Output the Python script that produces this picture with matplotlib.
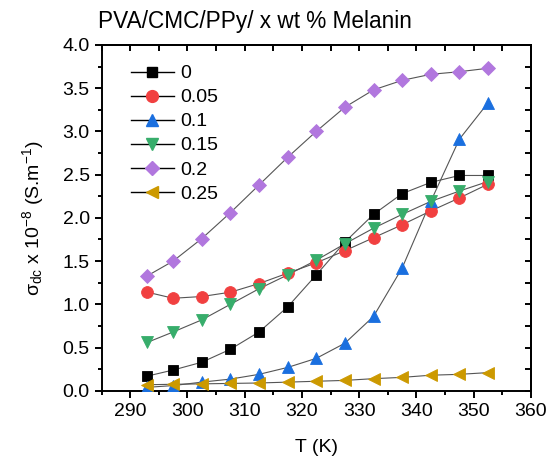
import matplotlib
matplotlib.use("Agg")
import matplotlib.pyplot as plt
from matplotlib.lines import Line2D
from matplotlib.ticker import MultipleLocator

plt.rcParams['font.family'] = ['Liberation Sans', 'DejaVu Sans']
plt.rcParams['mathtext.fontset'] = 'custom'
plt.rcParams['mathtext.rm'] = 'Liberation Sans'
plt.rcParams['mathtext.it'] = 'Liberation Sans:italic'

# temperature (K)
T = [293, 297.5, 302.5, 307.5, 312.5, 317.5, 322.5, 327.5, 332.5, 337.5, 342.5, 347.5, 352.5]

# sigma_dc x 1e-8 (S/m) for each melanin content
s_0 = [0.17, 0.24, 0.33, 0.48, 0.68, 0.97, 1.34, 1.72, 2.04, 2.28, 2.41, 2.49, 2.49]
s_005 = [1.14, 1.07, 1.09, 1.14, 1.24, 1.36, 1.48, 1.62, 1.77, 1.92, 2.08, 2.23, 2.39]
s_01 = [0.04, 0.06, 0.10, 0.135, 0.19, 0.27, 0.375, 0.55, 0.86, 1.42, 2.19, 2.91, 3.33]
s_015 = [0.56, 0.68, 0.82, 1.00, 1.18, 1.34, 1.51, 1.70, 1.88, 2.04, 2.19, 2.31, 2.42]
s_02 = [1.33, 1.50, 1.76, 2.06, 2.38, 2.70, 3.00, 3.28, 3.48, 3.59, 3.66, 3.69, 3.73]
s_025 = [0.07, 0.075, 0.08, 0.085, 0.09, 0.10, 0.11, 0.12, 0.14, 0.155, 0.18, 0.19, 0.21]

labels = ['0', '0.05', '0.1', '0.15', '0.2', '0.25']
series = [s_0, s_005, s_01, s_015, s_02, s_025]
colors = ['#000000', '#F14040', '#1A6FDF', '#37AD6B', '#B177DE', '#CC9900']
markers = ['s', 'o', '^', 'v', 'D', '<']
sizes = [7.5, 8.5, 9, 9, 7.5, 9]

fig = plt.figure(figsize=(5.54, 4.63), dpi=100)
ax = fig.add_axes([0.1834, 0.156, 0.775, 0.747])

handles = []
for y, lab, c, m, s in zip(series, labels, colors, markers, sizes):
    ax.plot(T, y, color='#555555', lw=0.8, zorder=2)
    ax.plot(T, y, ls='none', marker=m, ms=s, mfc=c, mec=c, mew=0.6, zorder=3)
    handles.append(Line2D([], [], color='black', lw=1.0, marker=m, ms=s,
                          mfc=c, mec=c, label=lab))

ax.set_xlim(285, 360)
ax.set_ylim(0, 4.0)
ax.xaxis.set_major_locator(MultipleLocator(10))
ax.xaxis.set_minor_locator(MultipleLocator(5))
ax.yaxis.set_major_locator(MultipleLocator(0.5))
ax.yaxis.set_minor_locator(MultipleLocator(0.25))
ax.yaxis.set_major_formatter(matplotlib.ticker.FormatStrFormatter('%.1f'))

for sp in ax.spines.values():
    sp.set_linewidth(1.4)
ax.tick_params(axis='both', which='both', labelsize=14, width=1.4)
ax.tick_params(which='major', length=5, direction='out')
ax.tick_params(which='minor', length=3, direction='out')

# inward ticks on top and right
top = ax.secondary_xaxis('top')
top.xaxis.set_major_locator(MultipleLocator(10))
top.xaxis.set_minor_locator(MultipleLocator(5))
top.tick_params(which='both', direction='in', length=4, width=1.4, labeltop=False)
right = ax.secondary_yaxis('right')
right.yaxis.set_major_locator(MultipleLocator(0.5))
right.yaxis.set_minor_locator(MultipleLocator(0.25))
right.tick_params(which='both', direction='in', length=4, width=1.4, labelright=False)
for a in (top, right):
    for sp in a.spines.values():
        sp.set_linewidth(1.4)

ax.set_xlabel('T (K)', fontsize=14, labelpad=14)
ax.set_ylabel('σ$_{\\mathrm{dc}}$ x 10$^{-8}$ (S.m$^{-1}$)', fontsize=14, labelpad=12)

ax.legend(handles=handles, loc='upper left', bbox_to_anchor=(0.05, 0.965),
          frameon=False, fontsize=14, handlelength=2.2, handletextpad=0.35,
          labelspacing=0.33, borderaxespad=0)

fig.text(0.177, 1 - 21.7 / 463, 'PVA/CMC/PPy/ x wt % Melanin', fontsize=16.3,
         va='center', ha='left')

fig.savefig('out.png', dpi=100)
